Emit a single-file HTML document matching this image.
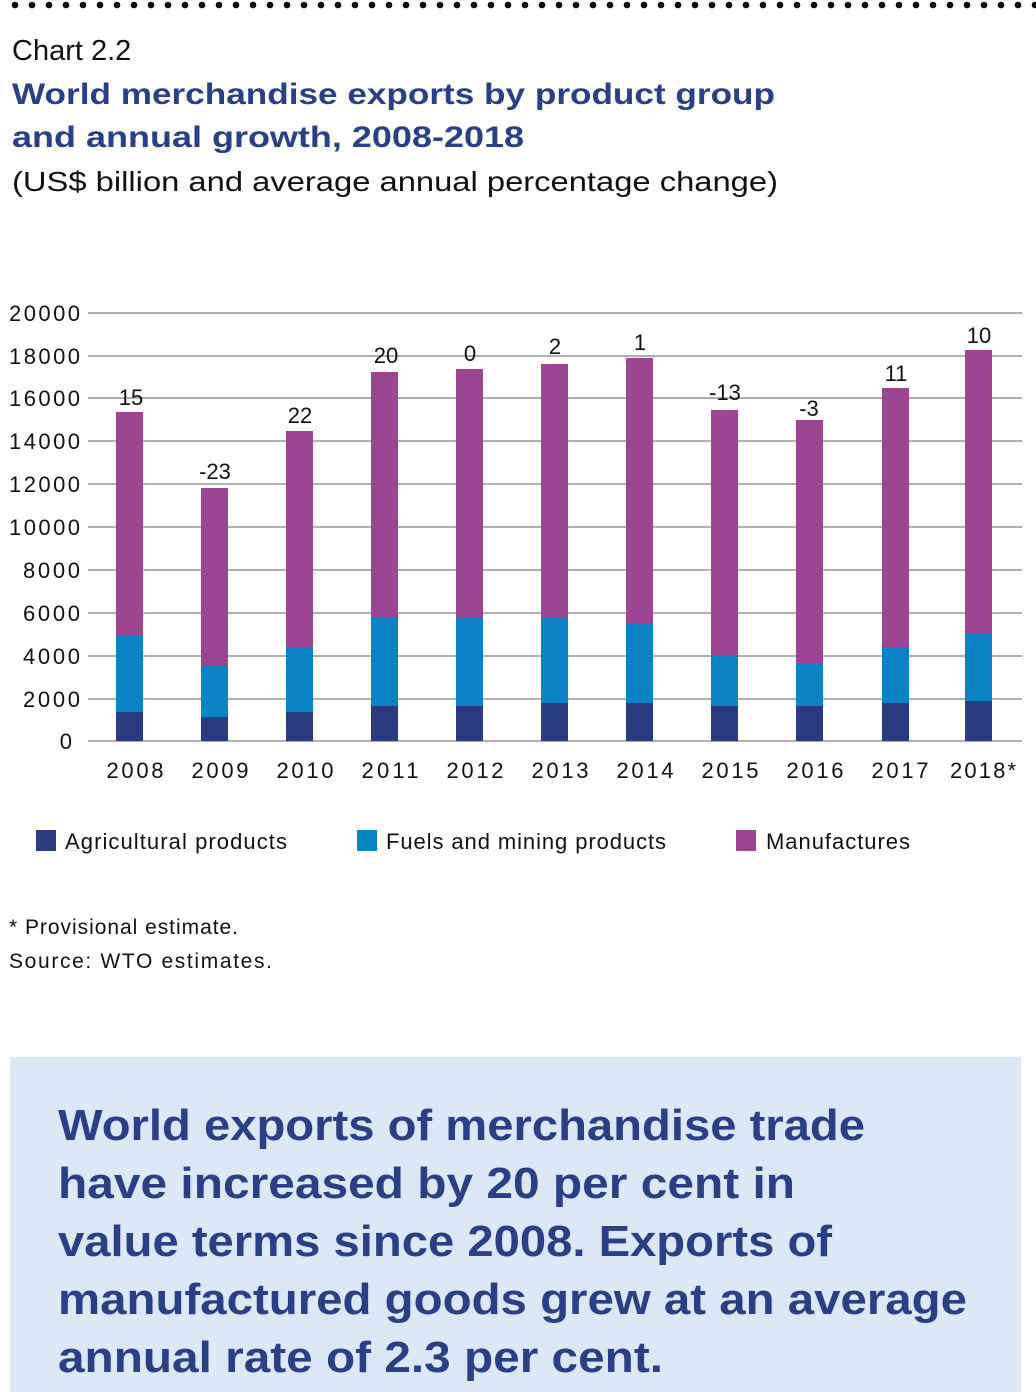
<!DOCTYPE html>
<html><head><meta charset="utf-8"><style>
html,body{margin:0;padding:0;background:#fff;}
svg{display:block;}
text{font-family:"Liberation Sans",sans-serif;}
</style></head><body>
<svg width="1036" height="1392" viewBox="0 0 1036 1392" xmlns="http://www.w3.org/2000/svg">
<g fill="#000">
<circle cx="15" cy="5" r="3.3"/><circle cx="32" cy="5" r="3.3"/><circle cx="49" cy="5" r="3.3"/><circle cx="66" cy="5" r="3.3"/><circle cx="83" cy="5" r="3.3"/><circle cx="100" cy="5" r="3.3"/><circle cx="117" cy="5" r="3.3"/><circle cx="134" cy="5" r="3.3"/><circle cx="151" cy="5" r="3.3"/><circle cx="168" cy="5" r="3.3"/><circle cx="185" cy="5" r="3.3"/><circle cx="202" cy="5" r="3.3"/><circle cx="219" cy="5" r="3.3"/><circle cx="236" cy="5" r="3.3"/><circle cx="253" cy="5" r="3.3"/><circle cx="270" cy="5" r="3.3"/><circle cx="287" cy="5" r="3.3"/><circle cx="304" cy="5" r="3.3"/><circle cx="321" cy="5" r="3.3"/><circle cx="338" cy="5" r="3.3"/><circle cx="355" cy="5" r="3.3"/><circle cx="372" cy="5" r="3.3"/><circle cx="389" cy="5" r="3.3"/><circle cx="406" cy="5" r="3.3"/><circle cx="423" cy="5" r="3.3"/><circle cx="440" cy="5" r="3.3"/><circle cx="457" cy="5" r="3.3"/><circle cx="474" cy="5" r="3.3"/><circle cx="491" cy="5" r="3.3"/><circle cx="508" cy="5" r="3.3"/><circle cx="525" cy="5" r="3.3"/><circle cx="542" cy="5" r="3.3"/><circle cx="559" cy="5" r="3.3"/><circle cx="576" cy="5" r="3.3"/><circle cx="593" cy="5" r="3.3"/><circle cx="610" cy="5" r="3.3"/><circle cx="627" cy="5" r="3.3"/><circle cx="644" cy="5" r="3.3"/><circle cx="661" cy="5" r="3.3"/><circle cx="678" cy="5" r="3.3"/><circle cx="695" cy="5" r="3.3"/><circle cx="712" cy="5" r="3.3"/><circle cx="729" cy="5" r="3.3"/><circle cx="746" cy="5" r="3.3"/><circle cx="763" cy="5" r="3.3"/><circle cx="780" cy="5" r="3.3"/><circle cx="797" cy="5" r="3.3"/><circle cx="814" cy="5" r="3.3"/><circle cx="831" cy="5" r="3.3"/><circle cx="848" cy="5" r="3.3"/><circle cx="865" cy="5" r="3.3"/><circle cx="882" cy="5" r="3.3"/><circle cx="899" cy="5" r="3.3"/><circle cx="916" cy="5" r="3.3"/><circle cx="933" cy="5" r="3.3"/><circle cx="950" cy="5" r="3.3"/><circle cx="967" cy="5" r="3.3"/><circle cx="984" cy="5" r="3.3"/><circle cx="1001" cy="5" r="3.3"/><circle cx="1018" cy="5" r="3.3"/><circle cx="1035" cy="5" r="3.3"/>
</g>
<text x="12" y="60" font-size="29" fill="#111">Chart 2.2</text>
<text x="12" y="104" font-size="30" font-weight="bold" fill="#2b3f86" textLength="763" lengthAdjust="spacingAndGlyphs">World merchandise exports by product group</text>
<text x="12" y="147" font-size="30" font-weight="bold" fill="#2b3f86" textLength="512" lengthAdjust="spacingAndGlyphs">and annual growth, 2008-2018</text>
<text x="12" y="191" font-size="28" fill="#111" textLength="766" lengthAdjust="spacingAndGlyphs">(US$ billion and average annual percentage change)</text>

<g stroke="#b0b0b0" stroke-width="2">
<line x1="88" y1="313" x2="1022" y2="313"/><line x1="88" y1="356" x2="1022" y2="356"/><line x1="88" y1="398" x2="1022" y2="398"/><line x1="88" y1="441" x2="1022" y2="441"/><line x1="88" y1="484" x2="1022" y2="484"/><line x1="88" y1="527" x2="1022" y2="527"/><line x1="88" y1="570" x2="1022" y2="570"/><line x1="88" y1="613" x2="1022" y2="613"/><line x1="88" y1="656" x2="1022" y2="656"/><line x1="88" y1="699" x2="1022" y2="699"/><line x1="88" y1="741" x2="1022" y2="741"/>
</g>
<g font-size="22" fill="#111" text-anchor="end">
<text x="80" y="321" textLength="71">20000</text><text x="80" y="364" textLength="71">18000</text><text x="80" y="406" textLength="71">16000</text><text x="80" y="449" textLength="71">14000</text><text x="80" y="492" textLength="71">12000</text><text x="80" y="535" textLength="71">10000</text><text x="80" y="578" textLength="57">8000</text><text x="80" y="621" textLength="57">6000</text><text x="80" y="664" textLength="57">4000</text><text x="80" y="707" textLength="57">2000</text><text x="72" y="749">0</text>
</g>
<g>
<rect x="116" y="412" width="27" height="224" fill="#9b4593"/><rect x="116" y="636" width="27" height="76" fill="#0a84c4"/><rect x="116" y="712" width="27" height="29" fill="#2b3b80"/>
<rect x="201" y="488" width="27" height="178" fill="#9b4593"/><rect x="201" y="666" width="27" height="51" fill="#0a84c4"/><rect x="201" y="717" width="27" height="24" fill="#2b3b80"/>
<rect x="286" y="431" width="27" height="216" fill="#9b4593"/><rect x="286" y="647" width="27" height="65" fill="#0a84c4"/><rect x="286" y="712" width="27" height="29" fill="#2b3b80"/>
<rect x="371" y="372" width="27" height="245" fill="#9b4593"/><rect x="371" y="617" width="27" height="89" fill="#0a84c4"/><rect x="371" y="706" width="27" height="35" fill="#2b3b80"/>
<rect x="456" y="369" width="27" height="248" fill="#9b4593"/><rect x="456" y="617" width="27" height="89" fill="#0a84c4"/><rect x="456" y="706" width="27" height="35" fill="#2b3b80"/>
<rect x="541" y="364" width="27" height="253" fill="#9b4593"/><rect x="541" y="617" width="27" height="86" fill="#0a84c4"/><rect x="541" y="703" width="27" height="38" fill="#2b3b80"/>
<rect x="626" y="358" width="27" height="265" fill="#9b4593"/><rect x="626" y="623" width="27" height="80" fill="#0a84c4"/><rect x="626" y="703" width="27" height="38" fill="#2b3b80"/>
<rect x="711" y="410" width="27" height="245" fill="#9b4593"/><rect x="711" y="655" width="27" height="51" fill="#0a84c4"/><rect x="711" y="706" width="27" height="35" fill="#2b3b80"/>
<rect x="796" y="420" width="27" height="243" fill="#9b4593"/><rect x="796" y="663" width="27" height="43" fill="#0a84c4"/><rect x="796" y="706" width="27" height="35" fill="#2b3b80"/>
<rect x="882" y="388" width="27" height="259" fill="#9b4593"/><rect x="882" y="647" width="27" height="56" fill="#0a84c4"/><rect x="882" y="703" width="27" height="38" fill="#2b3b80"/>
<rect x="965" y="350" width="27" height="283" fill="#9b4593"/><rect x="965" y="633" width="27" height="68" fill="#0a84c4"/><rect x="965" y="701" width="27" height="40" fill="#2b3b80"/>
</g>
<g font-size="22" fill="#111" text-anchor="middle">
<text x="131" y="405">15</text><text x="215" y="479">-23</text><text x="300" y="423">22</text><text x="386" y="363">20</text><text x="470" y="361">0</text><text x="555" y="354">2</text><text x="640" y="350">1</text><text x="725" y="400">-13</text><text x="809" y="416">-3</text><text x="896" y="381">11</text><text x="979" y="343">10</text>
</g>
<g font-size="22" fill="#111" text-anchor="middle">
<text x="135" y="778" textLength="57">2008</text><text x="220" y="778" textLength="57">2009</text><text x="305" y="778" textLength="57">2010</text><text x="390" y="778" textLength="57">2011</text><text x="475" y="778" textLength="57">2012</text><text x="560" y="778" textLength="57">2013</text><text x="645" y="778" textLength="57">2014</text><text x="730" y="778" textLength="57">2015</text><text x="815" y="778" textLength="57">2016</text><text x="900" y="778" textLength="57">2017</text><text x="983" y="778" textLength="66">2018*</text>
</g>
<rect x="36" y="830" width="20" height="21" fill="#2b3b80"/>
<text x="65" y="849" font-size="22" fill="#111" textLength="222">Agricultural products</text>
<rect x="357" y="830" width="20" height="21" fill="#0a84c4"/>
<text x="386" y="849" font-size="22" fill="#111" textLength="280">Fuels and mining products</text>
<rect x="736" y="830" width="20" height="21" fill="#9b4593"/>
<text x="766" y="849" font-size="22" fill="#111" textLength="144">Manufactures</text>
<text x="9" y="934" font-size="21" fill="#111" textLength="229">* Provisional estimate.</text>
<text x="9" y="968" font-size="21" fill="#111" textLength="263">Source: WTO estimates.</text>

<rect x="10" y="1057" width="1011" height="340" fill="#dde8f6"/>
<g font-size="44" font-weight="bold" fill="#2b3f86">
<text x="58" y="1140" textLength="807" lengthAdjust="spacingAndGlyphs">World exports of merchandise trade</text>
<text x="58" y="1198" textLength="737" lengthAdjust="spacingAndGlyphs">have increased by 20 per cent in</text>
<text x="58" y="1256" textLength="774" lengthAdjust="spacingAndGlyphs">value terms since 2008. Exports of</text>
<text x="58" y="1314" textLength="909" lengthAdjust="spacingAndGlyphs">manufactured goods grew at an average</text>
<text x="58" y="1372" textLength="605" lengthAdjust="spacingAndGlyphs">annual rate of 2.3 per cent.</text>
</g>
</svg>
</body></html>
